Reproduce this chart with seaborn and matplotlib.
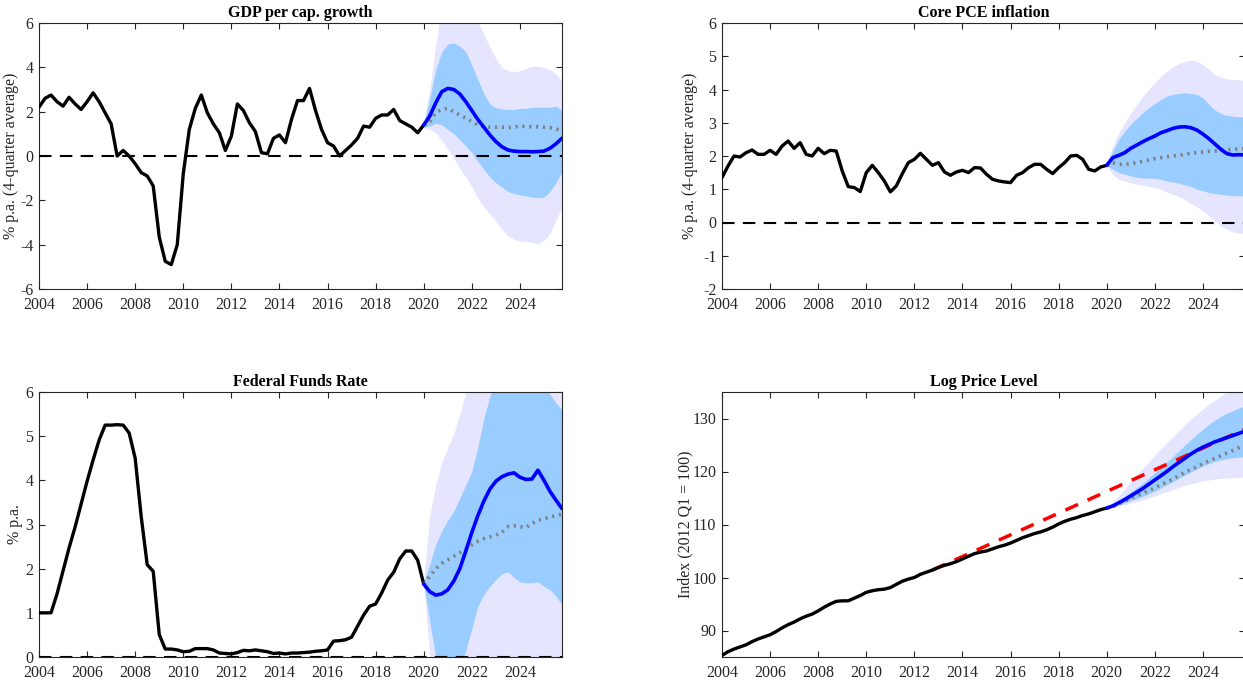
import matplotlib
matplotlib.use("Agg")
import matplotlib.pyplot as plt
import seaborn as sns
import numpy as np

# quarterly history 2004Q1..2020Q1, forecast 2020Q1..2025Q4
hist_q = 2004 + np.arange(65) / 4
fc_q = 2020 + np.arange(24) / 4

gdp_hist = [2.2, 2.6, 2.75, 2.45, 2.25, 2.65, 2.35, 2.1, 2.45, 2.85, 2.45, 1.95,
            1.45, 0.0, 0.25, 0.0, -0.35, -0.75, -0.9, -1.35, -3.65, -4.75, -4.9, -4.0,
            -0.8, 1.2, 2.15, 2.75, 1.95, 1.45, 1.05, 0.25, 0.9, 2.35, 2.05, 1.5,
            1.1, 0.15, 0.1, 0.8, 0.95, 0.6, 1.65, 2.5, 2.5, 3.05, 2.05, 1.2,
            0.6, 0.45, 0.0, 0.25, 0.5, 0.8, 1.35, 1.3, 1.7, 1.85, 1.85, 2.1,
            1.6, 1.45, 1.3, 1.05, 1.4]
gdp_med = [1.4, 1.8, 2.4, 2.9, 3.05, 3.0, 2.8, 2.45, 2.05, 1.65, 1.3, 0.95,
           0.65, 0.42, 0.27, 0.22, 0.2, 0.2, 0.19, 0.2, 0.22, 0.35, 0.55, 0.8]
gdp_alt = [1.4, 1.55, 1.95, 2.1, 2.15, 2.0, 1.85, 1.7, 1.55, 1.4, 1.33, 1.3,
           1.3, 1.3, 1.28, 1.3, 1.35, 1.33, 1.32, 1.32, 1.3, 1.28, 1.22, 1.15]
gdp_in_hi = [1.45, 2.6, 3.9, 4.7, 5.05, 5.1, 4.95, 4.7, 4.1, 3.45, 2.8, 2.35,
             2.18, 2.12, 2.1, 2.1, 2.15, 2.15, 2.2, 2.2, 2.2, 2.2, 2.25, 2.05]
gdp_in_lo = [1.3, 1.35, 1.48, 1.4, 1.2, 1.0, 0.75, 0.45, 0.15, -0.25, -0.6, -0.95,
             -1.2, -1.4, -1.6, -1.7, -1.75, -1.8, -1.85, -1.88, -1.85, -1.6, -1.2, -0.7]
gdp_out_hi = [1.5, 3.0, 5.0, 6.8, 7.5, 7.5, 7.3, 7.0, 6.6, 6.1, 5.5, 4.9,
              4.4, 4.0, 3.85, 3.8, 3.85, 3.95, 4.05, 4.05, 4.0, 3.9, 3.7, 3.4]
gdp_out_lo = [1.25, 1.2, 1.05, 0.7, 0.3, -0.1, -0.55, -0.95, -1.4, -1.9, -2.3, -2.6,
              -2.95, -3.3, -3.6, -3.75, -3.85, -3.85, -3.9, -3.95, -3.8, -3.5, -2.9, -2.3]

pce_hist = [1.35, 1.7, 2.0, 1.97, 2.1, 2.18, 2.05, 2.05, 2.17, 2.05, 2.3, 2.45,
            2.23, 2.4, 2.05, 2.0, 2.23, 2.07, 2.17, 2.15, 1.55, 1.08, 1.05, 0.93,
            1.5, 1.72, 1.5, 1.25, 0.92, 1.1, 1.47, 1.8, 1.9, 2.08, 1.9, 1.72,
            1.8, 1.52, 1.42, 1.52, 1.57, 1.5, 1.65, 1.64, 1.45, 1.3, 1.25, 1.22,
            1.2, 1.42, 1.5, 1.65, 1.75, 1.75, 1.6, 1.47, 1.65, 1.8, 2.0, 2.02,
            1.9, 1.6, 1.55, 1.67, 1.72]
pce_med = [1.72, 1.95, 2.02, 2.1, 2.23, 2.33, 2.43, 2.52, 2.6, 2.7, 2.76, 2.83,
           2.87, 2.88, 2.85, 2.78, 2.66, 2.52, 2.36, 2.2, 2.07, 2.03, 2.04, 2.03]
pce_alt = [1.72, 1.8, 1.75, 1.75, 1.77, 1.8, 1.84, 1.88, 1.92, 1.95, 1.98, 2.0,
           2.02, 2.05, 2.08, 2.1, 2.12, 2.14, 2.15, 2.17, 2.18, 2.2, 2.21, 2.22]
pce_in_hi = [1.75, 2.15, 2.5, 2.75, 2.95, 3.13, 3.3, 3.45, 3.58, 3.7, 3.8, 3.85,
             3.88, 3.9, 3.88, 3.85, 3.75, 3.55, 3.38, 3.28, 3.22, 3.2, 3.18, 3.18]
pce_in_lo = [1.7, 1.6, 1.5, 1.45, 1.4, 1.36, 1.34, 1.33, 1.33, 1.3, 1.25, 1.22,
             1.18, 1.13, 1.08, 1.0, 0.95, 0.9, 0.87, 0.85, 0.82, 0.81, 0.8, 0.8]
pce_out_hi = [1.8, 2.3, 2.7, 3.0, 3.3, 3.55, 3.8, 4.0, 4.2, 4.4, 4.55, 4.68,
              4.78, 4.85, 4.88, 4.85, 4.75, 4.6, 4.45, 4.37, 4.32, 4.3, 4.29, 4.28]
pce_out_lo = [1.7, 1.45, 1.3, 1.25, 1.2, 1.15, 1.12, 1.08, 1.05, 1.0, 0.92, 0.85,
              0.78, 0.68, 0.57, 0.48, 0.35, 0.2, 0.05, -0.1, -0.2, -0.28, -0.32, -0.33]

ffr_hist = [1.0, 1.0, 1.0, 1.43, 1.95, 2.47, 2.94, 3.46, 3.98, 4.46, 4.91, 5.25,
            5.25, 5.26, 5.25, 5.07, 4.5, 3.18, 2.09, 1.94, 0.51, 0.18, 0.18, 0.16,
            0.12, 0.13, 0.19, 0.19, 0.19, 0.16, 0.09, 0.08, 0.07, 0.1, 0.15, 0.14,
            0.16, 0.14, 0.12, 0.08, 0.09, 0.07, 0.09, 0.09, 0.1, 0.11, 0.13, 0.14,
            0.16, 0.36, 0.37, 0.39, 0.45, 0.7, 0.95, 1.15, 1.2, 1.45, 1.74, 1.92,
            2.22, 2.4, 2.4, 2.19, 1.65]
ffr_med = [1.65, 1.48, 1.4, 1.43, 1.52, 1.72, 2.0, 2.4, 2.82, 3.2, 3.53, 3.8,
           3.98, 4.08, 4.14, 4.17, 4.07, 4.02, 4.03, 4.23, 4.0, 3.75, 3.55, 3.36]
ffr_alt = [1.65, 1.83, 2.0, 2.12, 2.2, 2.28, 2.36, 2.45, 2.54, 2.62, 2.68, 2.72,
           2.76, 2.82, 2.95, 2.97, 2.95, 2.93, 3.02, 3.1, 3.13, 3.17, 3.2, 3.23]
ffr_in_hi = [1.7, 2.1, 2.55, 2.85, 3.1, 3.3, 3.6, 3.9, 4.2, 4.75, 5.4, 5.9,
             6.3, 6.6, 6.8, 6.8, 6.8, 6.8, 6.7, 6.5, 6.2, 5.95, 5.75, 5.6]
ffr_in_lo = [1.65, 0.8, 0.0, -0.5, -0.6, -0.5, -0.2, 0.15, 0.65, 1.15, 1.42, 1.6,
             1.75, 1.88, 1.93, 1.8, 1.7, 1.68, 1.68, 1.7, 1.6, 1.52, 1.38, 1.18]
ffr_out_hi = [1.75, 3.2, 3.9, 4.4, 4.75, 5.05, 5.5, 6.0, 6.5, 7.0, 7.4, 7.7,
              8.0, 8.0, 8.0, 8.0, 8.0, 8.0, 8.0, 8.0, 7.8, 7.6, 7.4, 7.2]
ffr_out_lo = [1.6, 0.0, -0.8, -1.2, -1.4, -1.5, -1.5, -1.5, -1.5, -1.5, -1.5, -1.5,
              -1.5, -1.5, -1.5, -1.5, -1.5, -1.5, -1.5, -1.5, -1.5, -1.5, -1.5, -1.5]

price_hist = [85.3, 86.0, 86.5, 86.9, 87.3, 87.9, 88.4, 88.8, 89.2, 89.8, 90.5, 91.1,
              91.6, 92.2, 92.7, 93.1, 93.7, 94.4, 95.0, 95.5, 95.6, 95.6, 96.1, 96.6,
              97.2, 97.5, 97.7, 97.8, 98.1, 98.7, 99.3, 99.7, 100.0, 100.6, 101.0, 101.4,
              101.9, 102.3, 102.6, 103.0, 103.5, 104.0, 104.5, 104.8, 105.0, 105.4, 105.8, 106.1,
              106.5, 107.0, 107.5, 107.9, 108.3, 108.6, 109.0, 109.5, 110.1, 110.6, 111.0, 111.3,
              111.7, 112.0, 112.4, 112.8, 113.1]
price_med = [113.1, 113.5, 114.1, 114.7, 115.4, 116.1, 116.8, 117.6, 118.4, 119.2, 120.0, 120.9,
             121.7, 122.5, 123.3, 124.0, 124.6, 125.1, 125.6, 126.0, 126.4, 126.8, 127.2, 127.6]
price_alt = [113.1, 113.4, 113.9, 114.4, 114.9, 115.4, 115.9, 116.4, 116.9, 117.5, 118.0, 118.6,
             119.2, 119.8, 120.4, 120.9, 121.5, 122.0, 122.5, 123.0, 123.5, 124.0, 124.5, 125.0]
price_in_hi = [113.1, 113.8, 114.6, 115.4, 116.2, 117.0, 117.8, 118.8, 119.8, 120.8, 121.8, 122.8,
               123.9, 125.0, 126.0, 127.0, 128.0, 128.9, 129.7, 130.4, 131.0, 131.5, 132.0, 132.4]
price_in_lo = [113.1, 113.3, 113.7, 114.1, 114.5, 114.9, 115.3, 115.8, 116.3, 116.9, 117.5, 118.1,
               118.7, 119.3, 119.9, 120.5, 121.0, 121.5, 121.9, 122.2, 122.4, 122.6, 122.7, 122.8]
price_out_hi = [113.1, 114.2, 115.5, 116.8, 118.1, 119.4, 120.6, 121.9, 123.1, 124.3, 125.5, 126.6,
                127.7, 128.8, 129.9, 130.9, 131.8, 132.7, 133.5, 134.3, 135.0, 135.8, 136.5, 137.2]
price_out_lo = [113.1, 113.2, 113.4, 113.7, 114.0, 114.3, 114.6, 115.0, 115.4, 115.8, 116.2, 116.6,
                117.0, 117.4, 117.7, 118.0, 118.2, 118.4, 118.6, 118.7, 118.8, 118.85, 118.9, 118.9]
target_q = [2012.75, 2025.75]
target_price = [101.4, 128.0]

sns.set_theme(style="ticks")
plt.rcParams["font.family"] = ["Liberation Serif", "DejaVu Serif"]
plt.rcParams["axes.unicode_minus"] = False

INNER = "#99ccff"
OUTER = "#e5e5ff"
AXC = "#262626"

fig = plt.figure(figsize=(12.43, 6.81), dpi=100)
W, H = 1243, 681


def make_ax(x0, y_top, y_bot):
    return fig.add_axes([x0 / W, 1 - y_bot / H, 523 / W, (y_bot - y_top) / H])


panels = [
    dict(pos=(39, 23, 289), title="GDP per cap. growth", ylabel="% p.a. (4-quarter average)",
         hist=gdp_hist, med=gdp_med, alt=gdp_alt, ihi=gdp_in_hi, ilo=gdp_in_lo,
         ohi=gdp_out_hi, olo=gdp_out_lo, ylim=(-6, 6), yticks=np.arange(-6, 7, 2),
         zero=True, lpad=1),
    dict(pos=(722, 23, 289), title="Core PCE inflation", ylabel="% p.a. (4-quarter average)",
         hist=pce_hist, med=pce_med, alt=pce_alt, ihi=pce_in_hi, ilo=pce_in_lo,
         ohi=pce_out_hi, olo=pce_out_lo, ylim=(-2, 6), yticks=np.arange(-2, 7, 1),
         zero=True, lpad=4),
    dict(pos=(39, 392, 657), title="Federal Funds Rate", ylabel="% p.a.",
         hist=ffr_hist, med=ffr_med, alt=ffr_alt, ihi=ffr_in_hi, ilo=ffr_in_lo,
         ohi=ffr_out_hi, olo=ffr_out_lo, ylim=(0, 6), yticks=np.arange(0, 7, 1),
         zero=True, lpad=2),
    dict(pos=(722, 392, 657), title="Log Price Level", ylabel="Index (2012 Q1 = 100)",
         hist=price_hist, med=price_med, alt=price_alt, ihi=price_in_hi, ilo=price_in_lo,
         ohi=price_out_hi, olo=price_out_lo, ylim=(85, 135), yticks=np.arange(90, 131, 10),
         zero=False, lpad=-1),
]

for p in panels:
    ax = make_ax(*p["pos"])
    ax.fill_between(fc_q, p["olo"], p["ohi"], color=OUTER, lw=0, zorder=1)
    ax.fill_between(fc_q, p["ilo"], p["ihi"], color=INNER, lw=0, zorder=2)
    if p["zero"]:
        ax.axhline(0, color="black", lw=1.5, ls=(0, (6, 4)), zorder=3)
    if p["title"] == "Log Price Level":
        sns.lineplot(x=target_q, y=target_price, ax=ax, color="#ff0000", lw=2.5,
                     linestyle=(0, (4, 3)), zorder=4)
    sns.lineplot(x=hist_q, y=p["hist"], ax=ax, color="black", lw=2.4, zorder=5)
    sns.lineplot(x=fc_q, y=p["alt"], ax=ax, color="#808080", lw=2.6,
                 linestyle=(0, (0.6, 1.3)), zorder=5)
    sns.lineplot(x=fc_q, y=p["med"], ax=ax, color="#0000ff", lw=2.6, zorder=6)

    ax.set_xlim(2004, 2025.75)
    ax.set_ylim(*p["ylim"])
    ax.set_xticks(np.arange(2004, 2025, 2))
    ax.set_yticks(p["yticks"])
    ax.set_title(p["title"], fontsize=11.5, fontweight="bold", pad=4, color="black")
    ax.set_ylabel(p["ylabel"], fontsize=11.5, color=AXC, labelpad=p["lpad"])
    ax.set_xlabel("")
    ax.tick_params(direction="in", top=True, right=True, length=4, width=0.8,
                   colors=AXC, labelsize=11.5)
    ax.tick_params(axis="y", pad=4)
    ax.tick_params(axis="x", pad=6)
    for s in ax.spines.values():
        s.set_color(AXC)
        s.set_linewidth(0.8)
    ax.set_facecolor("white")

fig.savefig("out.png", dpi=100)
